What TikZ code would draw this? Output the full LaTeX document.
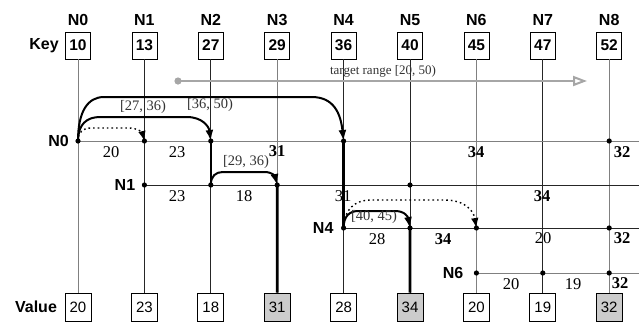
\documentclass[tikz,border=0pt]{standalone}
\usepackage{fontspec}
\setmainfont{Liberation Serif}
\setsansfont{Liberation Sans}
\usetikzlibrary{arrows.meta}
\begin{document}
\begin{tikzpicture}[x=1pt,y=-1pt]
\tikzset{
  hdr/.style={font=\sffamily\bfseries\fontsize{16}{16}\selectfont, inner sep=0pt},
  keybox/.style={draw, line width=0.8pt, minimum width=25pt, minimum height=27pt, inner sep=0pt, font=\sffamily\bfseries\fontsize{15.5}{16}\selectfont},
  valbox/.style={draw, line width=0.8pt, minimum width=26pt, minimum height=28pt, inner sep=0pt, font=\sffamily\fontsize{15}{16}\selectfont},
  hit/.style={fill=black!20},
  lgrid/.style={draw=black!50, line width=0.9pt},
  dgrid/.style={draw=black!85, line width=0.9pt},
  wlab/.style={font=\fontsize{16.5}{17}\selectfont, inner sep=0pt},
  blab/.style={font=\bfseries\fontsize{16.5}{17}\selectfont, inner sep=0pt},
  rlab/.style={font=\fontsize{14.5}{15}\selectfont, text=black!80, inner sep=0pt},
  hot/.style={line width=2.6pt},
  jump/.style={line width=2pt, -{Latex[length=11pt,width=8pt]}},
  djump/.style={line width=1.4pt, dash pattern=on 1.6pt off 3pt, -{Latex[length=10pt,width=7.5pt]}},
}
\useasboundingbox (0,0) rectangle (639,325);

% columns: headers, key boxes, value boxes
\foreach \i/\k in {0/10,1/13,2/27,3/29,4/36,5/40,6/45,7/47,8/52}{
  \pgfmathsetmacro{\xx}{78+66.4*\i}
  \node[hdr] (h\i) at (\xx,20) {N\i};
  \node[keybox] (k\i) at (\xx,45.5) {\k};
}
\foreach \i/\v/\st in {0/20/{},1/23/{},2/18/{},3/31/hit,4/28/{},5/34/hit,6/20/{},7/19/{},8/32/hit}{
  \pgfmathsetmacro{\xx}{78+66.4*\i}
  \node[valbox,\st] (v\i) at (\xx,307) {\v};
}
\node[hdr] (keylab) at (44,45.5) {Key};
\node[hdr] (vallab) at (36,307) {Value};

% grid points
\coordinate (d00) at (78,141);
\coordinate (d01) at (144.4,141);
\coordinate (d02) at (210.8,141);
\coordinate (d04) at (343.6,141);
\coordinate (d08) at (609.2,141);
\coordinate (d11) at (144.4,185);
\coordinate (d12) at (210.8,185);
\coordinate (d13) at (277.2,185);
\coordinate (d15) at (410,185);
\coordinate (d44) at (343.6,228);
\coordinate (d45) at (410,228);
\coordinate (d46) at (476.4,228);
\coordinate (d48) at (609.2,228);
\coordinate (d66) at (476.4,273);
\coordinate (d67) at (542.8,273);
\coordinate (d68) at (609.2,273);
\coordinate (e0) at (639,141);
\coordinate (e1) at (639,185);
\coordinate (e4) at (639,228);
\coordinate (e6) at (639,273);

% vertical lines
\foreach \i/\s in {0/lgrid,1/dgrid,2/dgrid,3/lgrid,4/dgrid,5/dgrid,6/lgrid,7/dgrid,8/lgrid}{
  \draw[\s] (k\i.south) -- (v\i.north);
}
% horizontal lines
\draw[lgrid] (d00) -- (e0);
\draw[dgrid] (d11) -- (e1);
\draw[dgrid] (d44) -- (e4);
\draw[lgrid] (d66) -- (e6);

% highlighted vertical segments
\draw[hot] (d02) -- (d12);
\draw[hot] (d13) -- (v3.north);
\draw[hot] (d04) -- (d44);
\draw[hot] (d45) -- (v5.north);

% dots
\foreach \p in {d00,d01,d02,d04,d08,d11,d12,d13,d15,d44,d45,d46,d48,d66,d67,d68}{
  \fill (\p) circle (2.6pt);
}

% row labels
\node[hdr, anchor=east] (r0) at ([xshift=-9pt]d00) {N0};
\node[hdr, anchor=east] (r1) at ([xshift=-9pt]d11) {N1};
\node[hdr, anchor=east] (r4) at ([xshift=-10pt]d44) {N4};
\node[hdr, anchor=east] (r6) at ([xshift=-13pt]d66) {N6};

% target range
\coordinate (tr0) at (178,81);
\coordinate (tr1) at (587,81);
\fill[black!35] (tr0) circle (3.6pt);
\draw[black!35, line width=2pt, -{Triangle[open,length=14pt,width=10pt,line width=2pt]}] (tr0) -- (tr1);
\node[font=\fontsize{13}{13}\selectfont, text=black!80] (trl) at (383,71) {target range [20, 50)};

% jumps
\draw[jump] (d00) .. controls +(0,-30) and +(-16,0) .. ++(26,-44)
  -- ([shift={(-32pt,44pt)}]d04) .. controls +(22,0) and +(-3,-28) .. (d04);
\draw[jump] (d00) .. controls +(0,-17) and +(-13,0) .. ++(22,-24)
  -- ([shift={(-24pt,24pt)}]d02) .. controls +(15,0) and +(-2,-15) .. (d02);
\draw[djump] (d00) .. controls +(0,-9) and +(-8,0) .. ++(13,-13)
  -- ([shift={(-16pt,13pt)}]d01) .. controls +(10,0) and +(-2,-8) .. (d01);
\draw[jump] (d12) .. controls +(0,-9) and +(-7,0) .. ++(12,-13)
  -- ([shift={(-13pt,13pt)}]d13) .. controls +(9,0) and +(-2,-8) .. (d13);
\draw[djump] (d44) .. controls +(0,-18) and +(-16,0) .. ++(27,-28)
  -- ([shift={(-32pt,28pt)}]d46) .. controls +(20,0) and +(-3,-18) .. (d46);
\draw[jump] (d44) .. controls +(0,-12) and +(-9,0) .. ++(15,-17)
  -- ([shift={(-15pt,17pt)}]d45) .. controls +(10,0) and +(-2,-11) .. (d45);

% range labels
\node[rlab] (q1) at (143,107) {[27, 36)};
\node[rlab] (q2) at (210,105) {[36, 50)};
\node[rlab] (q3) at (246,162) {[29, 36)};
\node[rlab] (q4) at (374,217) {[40, 45)};

% edge labels
\node[wlab] (l01) at (111,152) {20};
\node[wlab] (l02) at (177,152) {23};
\node[blab] (l03) at (277,151) {31};
\node[blab] (l06) at (476,152) {34};
\node[blab] (l08) at (622,152) {32};
\node[wlab] (l11) at (177,196) {23};
\node[wlab] (l12) at (244,196) {18};
\node[wlab] (l14) at (343,196) {31};
\node[blab] (l17) at (542,196) {34};
\node[wlab] (l41) at (377,239) {28};
\node[blab] (l42) at (443,239) {34};
\node[wlab] (l43) at (543,238) {20};
\node[blab] (l44) at (622,238) {32};
\node[wlab] (l61) at (511,284) {20};
\node[wlab] (l62) at (573,284) {19};
\node[blab] (l63) at (620,283) {32};
\end{tikzpicture}
\end{document}
